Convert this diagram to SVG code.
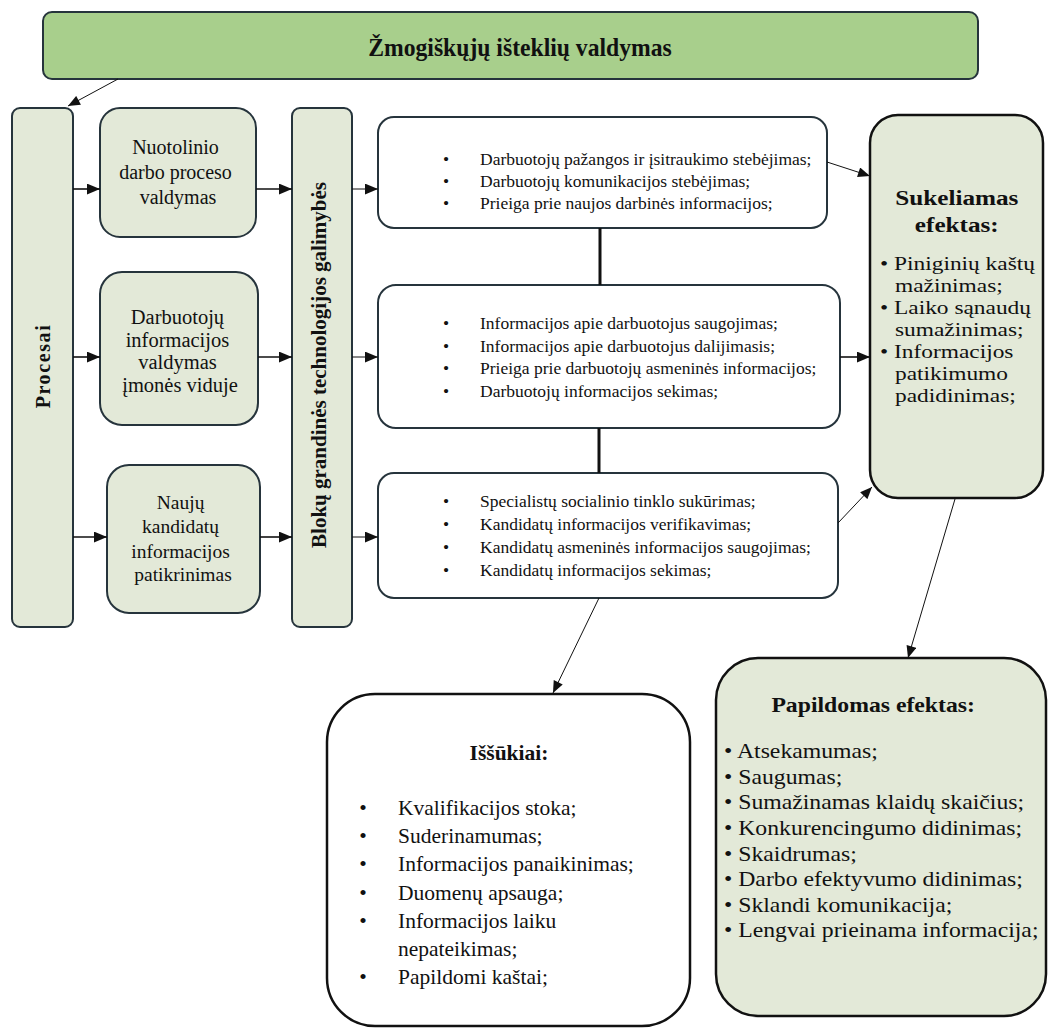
<svg xmlns="http://www.w3.org/2000/svg" width="1052" height="1031" viewBox="0 0 1052 1031">
  <defs>
    <style>
      .box { fill: #e3e9d8; stroke: #26343c; stroke-width: 2; }
      .boxw { fill: #ffffff; stroke: #26343c; stroke-width: 2; }
      .boxk { fill: #e3e9d8; stroke: #111111; stroke-width: 2.5; }
      .title { fill: #a8cf8c; stroke: #26343c; stroke-width: 2; }
      .t { font-family: "Liberation Serif", "Times New Roman", serif; fill: #111111; }
      .b { font-weight: bold; }
      .c { text-anchor: middle; }
      .ln { stroke: #111111; fill: none; }
      .thick { stroke-width: 1.6; }
      .thin { stroke-width: 1; }
      .bar { stroke-width: 3; }
    </style>
    <marker id="arrow" viewBox="0 0 12 10" refX="12" refY="5" markerWidth="13" markerHeight="11" markerUnits="userSpaceOnUse" orient="auto">
      <path d="M0,0 L12,5 L0,10 z" fill="#111111"/>
    </marker>
    <marker id="arrowSm" viewBox="0 0 12 10" refX="12" refY="5" markerWidth="13" markerHeight="10" markerUnits="userSpaceOnUse" orient="auto">
      <path d="M0,0 L12,5 L0,10 z" fill="#111111"/>
    </marker>
  </defs>

  <rect width="1052" height="1031" fill="#ffffff"/>

  <!-- top heading -->
  <g id="hrm">
    <rect class="title" x="43" y="12" width="935" height="67" rx="9"/>
    <text class="t b c" x="0" y="56" font-size="26" transform="translate(520,0) scale(0.91,1)">Žmogiškųjų išteklių valdymas</text>
  </g>

  <!-- left column: processes -->
  <g id="procesai">
    <rect class="box" x="12" y="108" width="61" height="519" rx="8"/>
    <text class="t b c" font-size="20" letter-spacing="1.6" transform="translate(50,366) rotate(-90)">Procesai</text>
  </g>

  <g id="nuotolinis">
    <rect class="box" x="100" y="108" width="156" height="129" rx="20"/>
    <text class="t c" font-size="20">
      <tspan x="178" y="154">Nuotolinio</tspan>
      <tspan x="178" y="179">darbo proceso</tspan>
      <tspan x="178" y="204">valdymas</tspan>
    </text>
  </g>

  <g id="darbuotoju-info">
    <rect class="box" x="100" y="272" width="158" height="153" rx="22"/>
    <text class="t c" font-size="20.5">
      <tspan x="180" y="324">Darbuotojų</tspan>
      <tspan x="180" y="347">informacijos</tspan>
      <tspan x="180" y="369">valdymas</tspan>
      <tspan x="180" y="392">įmonės viduje</tspan>
    </text>
  </g>

  <g id="kandidatai">
    <rect class="box" x="107" y="465" width="153" height="148" rx="22"/>
    <text class="t c" font-size="19.5">
      <tspan x="183" y="509">Naujų</tspan>
      <tspan x="183" y="533">kandidatų</tspan>
      <tspan x="183" y="558">informacijos</tspan>
      <tspan x="183" y="581">patikrinimas</tspan>
    </text>
  </g>

  <g id="blockchain">
    <rect class="box" x="292" y="108" width="60" height="519" rx="8"/>
    <text class="t b c" font-size="21" transform="translate(326,365) rotate(-90)">Blokų grandinės technologijos galimybės</text>
  </g>

  <!-- capability lists -->
  <g id="stebejimas">
    <rect class="boxw" x="378" y="117" width="449" height="111" rx="16"/>
    <g class="t" font-size="17.5">
      <text class="c" x="446" y="165">•</text>
      <text class="c" x="446" y="187">•</text>
      <text class="c" x="446" y="209">•</text>
      <text x="480" y="165">Darbuotojų pažangos ir įsitraukimo stebėjimas;</text>
      <text x="480" y="187">Darbuotojų komunikacijos stebėjimas;</text>
      <text x="480" y="209">Prieiga prie naujos darbinės informacijos;</text>
    </g>
  </g>

  <g id="informacija">
    <rect class="boxw" x="378" y="285" width="462" height="143" rx="18"/>
    <g class="t" font-size="17.5">
      <text class="c" x="446" y="329">•</text>
      <text class="c" x="446" y="352">•</text>
      <text class="c" x="446" y="374">•</text>
      <text class="c" x="446" y="397">•</text>
      <text x="480" y="329">Informacijos apie darbuotojus saugojimas;</text>
      <text x="480" y="352">Informacijos apie darbuotojus dalijimasis;</text>
      <text x="480" y="374">Prieiga prie darbuotojų asmeninės informacijos;</text>
      <text x="480" y="397">Darbuotojų informacijos sekimas;</text>
    </g>
  </g>

  <g id="atranka">
    <rect class="boxw" x="378" y="473" width="460" height="125" rx="16"/>
    <g class="t" font-size="17.5">
      <text class="c" x="446" y="507">•</text>
      <text class="c" x="446" y="530">•</text>
      <text class="c" x="446" y="553">•</text>
      <text class="c" x="446" y="576">•</text>
      <text x="480" y="507">Specialistų socialinio tinklo sukūrimas;</text>
      <text x="480" y="530">Kandidatų informacijos verifikavimas;</text>
      <text x="480" y="553">Kandidatų asmeninės informacijos saugojimas;</text>
      <text x="480" y="576">Kandidatų informacijos sekimas;</text>
    </g>
  </g>

  <!-- effects -->
  <g id="sukeliamas">
    <rect class="boxk" x="870" y="115" width="173" height="383" rx="28"/>
    <g class="t" transform="translate(880,0) scale(1.2,1)">
      <text class="b c" font-size="21" x="64" y="205">Sukeliamas</text>
      <text class="b c" font-size="21" x="64" y="232">efektas:</text>
      <g font-size="19.5">
        <text x="0" y="270">• Piniginių kaštų</text>
        <text x="12.5" y="292">mažinimas;</text>
        <text x="0" y="314">• Laiko sąnaudų</text>
        <text x="12.5" y="336">sumažinimas;</text>
        <text x="0" y="358">• Informacijos</text>
        <text x="12.5" y="380">patikimumo</text>
        <text x="12.5" y="402">padidinimas;</text>
      </g>
    </g>
  </g>

  <g id="papildomas">
    <rect class="boxk" x="716" y="658" width="330" height="358" rx="42"/>
    <g class="t" transform="translate(724,0) scale(1.13,1)">
      <text class="b c" font-size="21" x="132" y="712">Papildomas efektas:</text>
      <g font-size="21">
        <text x="0" y="758">• Atsekamumas;</text>
        <text x="0" y="784">• Saugumas;</text>
        <text x="0" y="809">• Sumažinamas klaidų skaičius;</text>
        <text x="0" y="835">• Konkurencingumo didinimas;</text>
        <text x="0" y="861">• Skaidrumas;</text>
        <text x="0" y="886">• Darbo efektyvumo didinimas;</text>
        <text x="0" y="912">• Sklandi komunikacija;</text>
        <text x="0" y="937">• Lengvai prieinama informacija;</text>
      </g>
    </g>
  </g>

  <g id="issukiai">
    <rect class="boxw" x="327" y="694" width="363" height="332" rx="48" style="stroke:#111111;stroke-width:2.5"/>
    <g class="t" font-size="21.5">
      <text class="b c" x="509" y="760">Iššūkiai:</text>
      <text class="c" x="363" y="815">•</text>
      <text class="c" x="363" y="843">•</text>
      <text class="c" x="363" y="871">•</text>
      <text class="c" x="363" y="900">•</text>
      <text class="c" x="363" y="928">•</text>
      <text class="c" x="363" y="984">•</text>
      <text x="398" y="815">Kvalifikacijos stoka;</text>
      <text x="398" y="843">Suderinamumas;</text>
      <text x="398" y="871">Informacijos panaikinimas;</text>
      <text x="398" y="900">Duomenų apsauga;</text>
      <text x="398" y="928">Informacijos laiku</text>
      <text x="398" y="956">nepateikimas;</text>
      <text x="398" y="984">Papildomi kaštai;</text>
    </g>
  </g>

  <!-- connectors -->
  <g id="connectors">
    <line class="ln thin" x1="118" y1="79" x2="68" y2="106" marker-end="url(#arrowSm)"/>

    <line class="ln thick" x1="73" y1="189" x2="100" y2="189" marker-end="url(#arrow)"/>
    <line class="ln thick" x1="73" y1="357" x2="100" y2="357" marker-end="url(#arrow)"/>
    <line class="ln thick" x1="73" y1="537" x2="107" y2="537" marker-end="url(#arrow)"/>

    <line class="ln thick" x1="256" y1="189" x2="292" y2="189" marker-end="url(#arrow)"/>
    <line class="ln thick" x1="258" y1="357" x2="292" y2="357" marker-end="url(#arrow)"/>
    <line class="ln thick" x1="260" y1="537" x2="292" y2="537" marker-end="url(#arrow)"/>

    <line class="ln thin" x1="352" y1="189" x2="378" y2="189" marker-end="url(#arrow)"/>
    <line class="ln thin" x1="352" y1="357" x2="378" y2="357" marker-end="url(#arrow)"/>
    <line class="ln thin" x1="352" y1="537" x2="378" y2="537" marker-end="url(#arrow)"/>

    <line class="ln bar" x1="600" y1="228" x2="600" y2="285"/>
    <line class="ln bar" x1="599" y1="428" x2="599" y2="473"/>

    <line class="ln thin" x1="827" y1="162" x2="870" y2="176" marker-end="url(#arrowSm)"/>
    <line class="ln thick" x1="840" y1="357" x2="870" y2="357" marker-end="url(#arrow)"/>
    <line class="ln thin" x1="838" y1="523" x2="872" y2="487" marker-end="url(#arrowSm)"/>

    <line class="ln thin" x1="599" y1="598" x2="553" y2="693" marker-end="url(#arrowSm)"/>
    <line class="ln thin" x1="955" y1="499" x2="908" y2="658" marker-end="url(#arrowSm)"/>
  </g>
</svg>
